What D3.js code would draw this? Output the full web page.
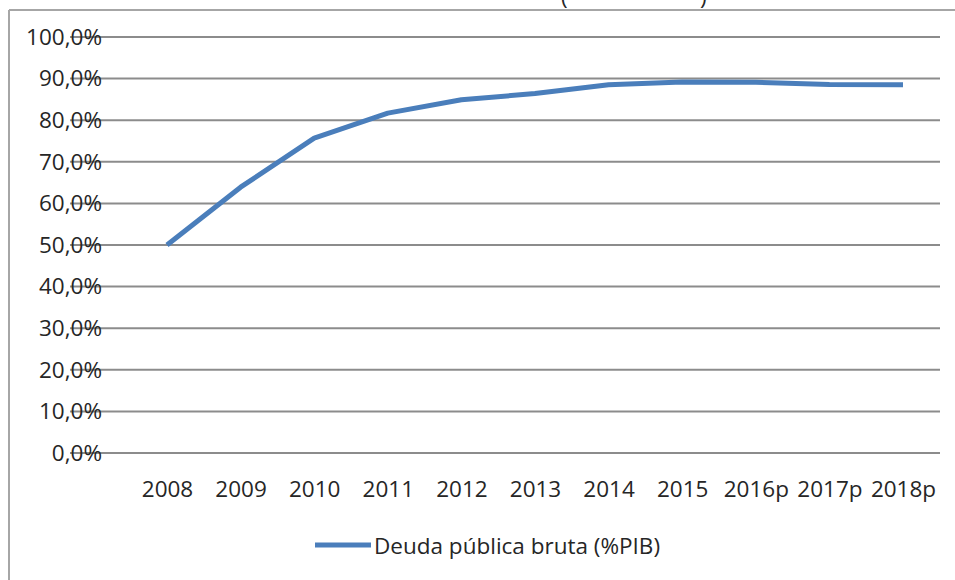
<!DOCTYPE html>
<html>
<head>
<meta charset="utf-8">
<script src="https://cdn.jsdelivr.net/npm/d3@7"></script>
<style>
  body { margin: 0; background: #fff; }
  text { font-family: "Open Sans", Arial, sans-serif; fill: #262626; }
</style>
</head>
<body>
<svg id="chart" width="955" height="580"></svg>
<script>
// data
var years = ["2008", "2009", "2010", "2011", "2012", "2013", "2014", "2015", "2016p", "2017p", "2018p"];
var deuda = [50.0, 63.9, 75.7, 81.7, 84.9, 86.4, 88.5, 89.2, 89.1, 88.6, 88.5];
var yTicks = [0, 10, 20, 30, 40, 50, 60, 70, 80, 90, 100];
var seriesName = "Deuda pública bruta (%PIB)";

var svg = d3.select("#chart");
var blue = "#4a7ebb";
var font = "Open Sans, Arial, sans-serif";
var fs = 22.5;

// chart frame (cut off at right and bottom)
svg.append("line").attr("x1", 9).attr("x2", 955).attr("y1", 10).attr("y2", 10)
	.attr("stroke", "#a6a6a6").attr("stroke-width", 2);
svg.append("line").attr("x1", 9).attr("x2", 9).attr("y1", 10).attr("y2", 580)
	.attr("stroke", "#a6a6a6").attr("stroke-width", 2);

// leftovers of the title above, mostly cropped
svg.append("text").attr("x", 561).attr("y", 5).attr("font-size", fs).text("(");
svg.append("text").attr("x", 700).attr("y", 5).attr("font-size", fs).text(")");

var x = d3.scalePoint().domain(years).range([167, 903]);
var y = d3.scaleLinear().domain([0, 100]).range([453, 37]);

// gridlines
svg.append("g").selectAll("line").data(yTicks).enter().append("line")
	.attr("x1", 70).attr("x2", 940)
	.attr("y1", function(d){ return y(d); })
	.attr("y2", function(d){ return y(d); })
	.attr("stroke", "#8c8c8c").attr("stroke-width", 2);

// y labels
var yAxis = d3.axisLeft(y).tickValues(yTicks).tickSize(0).tickPadding(0)
	.tickFormat(function(d){ return d.toFixed(1).replace(".", ",") + "%"; });
var gy = svg.append("g").attr("transform", "translate(102,0)").call(yAxis);
gy.select(".domain").remove();
gy.selectAll("text").attr("font-size", fs).attr("fill", "#262626")
	.style("font-family", font);

// x labels
var xAxis = d3.axisBottom(x).tickSize(0).tickPadding(0);
var gx = svg.append("g").attr("transform", "translate(0,481)").call(xAxis);
gx.select(".domain").remove();
gx.selectAll("text").attr("font-size", fs).attr("fill", "#262626")
	.style("font-family", font);

// the series
var line = d3.line()
	.x(function(d, i){ return x(years[i]); })
	.y(function(d){ return y(d); });
svg.append("path").datum(deuda)
	.attr("d", line)
	.attr("fill", "none")
	.attr("stroke", blue)
	.attr("stroke-width", 5)
	.attr("stroke-linejoin", "round");

// legend
svg.append("line").attr("x1", 315).attr("x2", 371).attr("y1", 545).attr("y2", 545)
	.attr("stroke", blue).attr("stroke-width", 5);
svg.append("text").attr("x", 374).attr("y", 554).attr("font-size", fs).text(seriesName);
</script>
</body>
</html>
